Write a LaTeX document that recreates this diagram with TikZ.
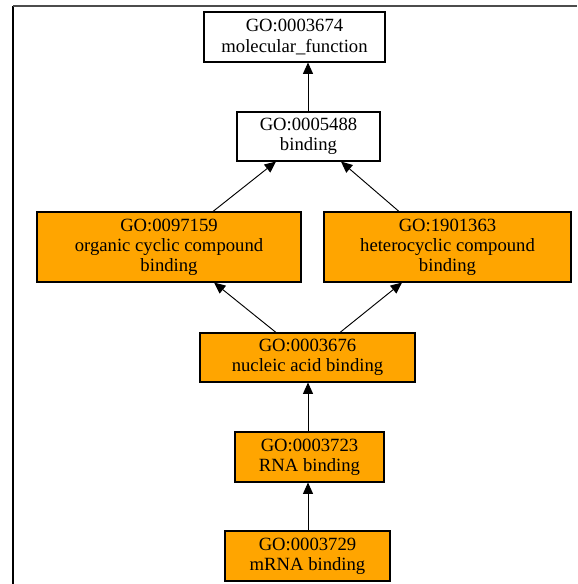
\documentclass[tikz,border=0pt]{standalone}
\usepackage{fontspec}
\setmainfont{Liberation Serif}
\usetikzlibrary{arrows.meta}
\definecolor{goorange}{HTML}{FFA500}
\begin{document}
\begin{tikzpicture}[x=0.75pt,y=-0.75pt,
  term/.style={draw=black,line width=0.8pt,align=center,inner sep=0pt,
    font=\fontsize{14pt}{15pt}\selectfont},
  hit/.style={term,fill=goorange},
  plain/.style={term,fill=white},
  isa/.style={line width=0.7pt,-{Triangle[length=8.5pt,width=7.5pt]}}]
\useasboundingbox (0,0) rectangle (577,584);
% frame edges
\draw[line width=1.2pt] (13,6) -- (13,584);
\draw[line width=1pt,black!70] (13,6) -- (577,6);
% GO terms
\node[plain,minimum width=181*0.75pt,minimum height=50*0.75pt] (mf) at (294.5,37) {GO:0003674\\molecular\_function};
\node[plain,minimum width=143*0.75pt,minimum height=49*0.75pt] (bind) at (308.5,136.5) {GO:0005488\\binding};
\node[hit,minimum width=264*0.75pt,minimum height=70*0.75pt] (occ) at (169,247) {GO:0097159\\organic cyclic compound\\binding};
\node[hit,minimum width=247*0.75pt,minimum height=70*0.75pt] (hcc) at (447.5,247) {GO:1901363\\heterocyclic compound\\binding};
\node[hit,minimum width=215*0.75pt,minimum height=49*0.75pt] (nab) at (307.5,357.5) {GO:0003676\\nucleic acid binding};
\node[hit,minimum width=149*0.75pt,minimum height=50*0.75pt] (rna) at (309.5,457) {GO:0003723\\RNA binding};
\node[hit,minimum width=165*0.75pt,minimum height=50*0.75pt] (mrna) at (307.5,556) {GO:0003729\\mRNA binding};
% is_a relations
\draw[isa] (bind.north -| 308,0) -- (mf.south -| 308,0);
\draw[isa] ([xshift=44*0.75pt]occ.north) -- ([xshift=-32.5*0.75pt]bind.south);
\draw[isa] ([xshift=-48.5*0.75pt]hcc.north) -- ([xshift=32.5*0.75pt]bind.south);
\draw[isa] ([xshift=-31.5*0.75pt]nab.north) -- ([xshift=45*0.75pt]occ.south);
\draw[isa] ([xshift=32.5*0.75pt]nab.north) -- ([xshift=-45.5*0.75pt]hcc.south);
\draw[isa] (rna.north -| 308,0) -- (nab.south -| 308,0);
\draw[isa] (mrna.north -| 308,0) -- (rna.south -| 308,0);
\end{tikzpicture}
\end{document}
